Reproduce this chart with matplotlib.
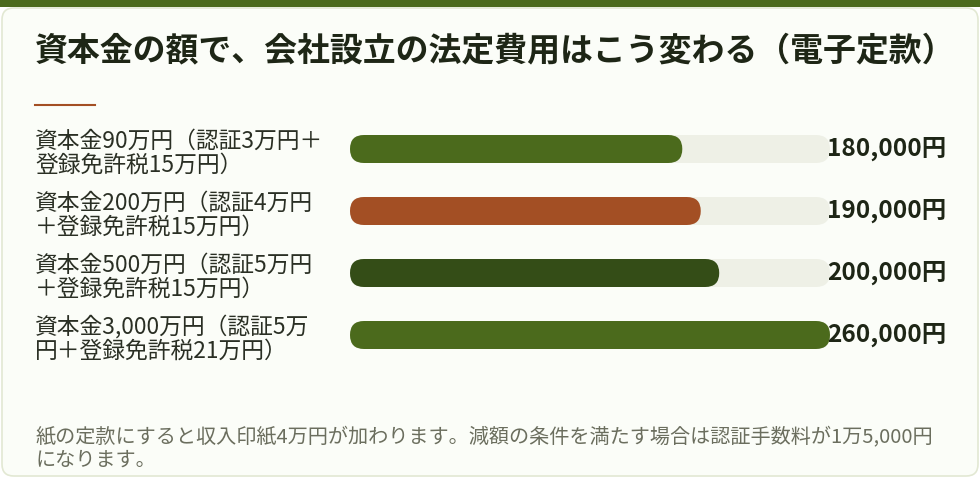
import matplotlib
matplotlib.use("Agg")
import matplotlib.pyplot as plt
from matplotlib.patches import FancyBboxPatch, Rectangle
from matplotlib.lines import Line2D
import matplotlib.transforms as mtransforms

plt.rcParams['font.family'] = ['Noto Sans CJK JP', 'DejaVu Sans']

title = "資本金の額で、会社設立の法定費用はこう変わる（電子定款）"
categories = [
    "資本金90万円（認証3万円＋\n登録免許税15万円）",
    "資本金200万円（認証4万円\n＋登録免許税15万円）",
    "資本金500万円（認証5万円\n＋登録免許税15万円）",
    "資本金3,000万円（認証5万\n円＋登録免許税21万円）",
]
values = [180000, 190000, 200000, 260000]
value_labels = ["180,000円", "190,000円", "200,000円", "260,000円"]
bar_colors = ["#4b6a1c", "#a34f24", "#344d17", "#4b6a1c"]
max_value = 260000
footnote = ("紙の定款にすると収入印紙4万円が加わります。減額の条件を満たす場合は認証手数料が1万5,000円\n"
            "になります。")

W, H = 980, 478
fig = plt.figure(figsize=(W / 100, H / 100), dpi=100)
fig.patch.set_facecolor("#ffffff")

def fx(px):
    return px / W

def fy(py):
    return 1 - py / H

# card
card = FancyBboxPatch((fx(2), fy(476)), fx(976), (476 - 8) / H,
                      boxstyle="round,pad=0,rounding_size=0.012",
                      transform=fig.transFigure, facecolor="#fbfdf8",
                      edgecolor="#e2e8d3", linewidth=1.2, mutation_aspect=W / H,
                      zorder=-2)
fig.patches.append(card)
# top band
fig.patches.append(Rectangle((0, fy(7)), 1, 7 / H, transform=fig.transFigure,
                             facecolor="#4b6a1c", edgecolor="none", zorder=-1))

fig.text(fx(35), fy(51), title, fontsize=23.7, fontweight="bold",
         color="#1e2616", ha="left", va="center")
fig.lines.append(Line2D([fx(35), fx(95)], [fy(105), fy(105)], transform=fig.transFigure,
                        color="#a34f24", linewidth=1.5))

# bar axes: x from 350 to 830 px; rows spaced 62 px, first center at 149
n = len(values)
row_px = 62
top_px = 149 - row_px / 2
bot_px = top_px + row_px * n
ax = fig.add_axes([fx(350), fy(bot_px), fx(830) - fx(350), (bot_px - top_px) / H])
ax.set_zorder(3)
ax.patch.set_visible(False)
ax.set_xlim(0, max_value)
ax.set_ylim(n - 0.5, -0.5)
ax.axis("off")

bar_h_px = 28
h = bar_h_px / row_px
x_per_px = max_value / 480
r_x = (bar_h_px / 2) * x_per_px
aspect = (1 / row_px) / x_per_px

for i, v in enumerate(values):
    track = FancyBboxPatch((0, i - h / 2), max_value, h,
                           boxstyle=f"round,pad=0,rounding_size={r_x}",
                           mutation_aspect=aspect, facecolor="#eef0e6",
                           edgecolor="none", clip_on=False)
    ax.add_patch(track)
    bar = FancyBboxPatch((0, i - h / 2), v, h,
                         boxstyle=f"round,pad=0,rounding_size={r_x}",
                         mutation_aspect=aspect, facecolor=bar_colors[i],
                         edgecolor="none", clip_on=False)
    ax.add_patch(bar)

trans = mtransforms.blended_transform_factory(fig.transFigure, ax.transData)
label_trans = trans + mtransforms.ScaledTranslation(0, -4 / 100, fig.dpi_scale_trans)
for i, (lab, vl) in enumerate(zip(categories, value_labels)):
    ax.text(fx(35), i, lab, transform=label_trans, ha="left", va="center",
            fontsize=16.4, color="#2a2f24", linespacing=1.07, clip_on=False)
    ax.text(fx(946), i, vl, transform=trans, ha="right", va="center",
            fontsize=17.6, fontweight="bold", color="#1e2616", clip_on=False)

fig.text(fx(35), fy(449), footnote, fontsize=14.5, color="#6b6e5e",
         ha="left", va="center", linespacing=1.1)

fig.savefig("out.png", dpi=100, facecolor=fig.get_facecolor())
